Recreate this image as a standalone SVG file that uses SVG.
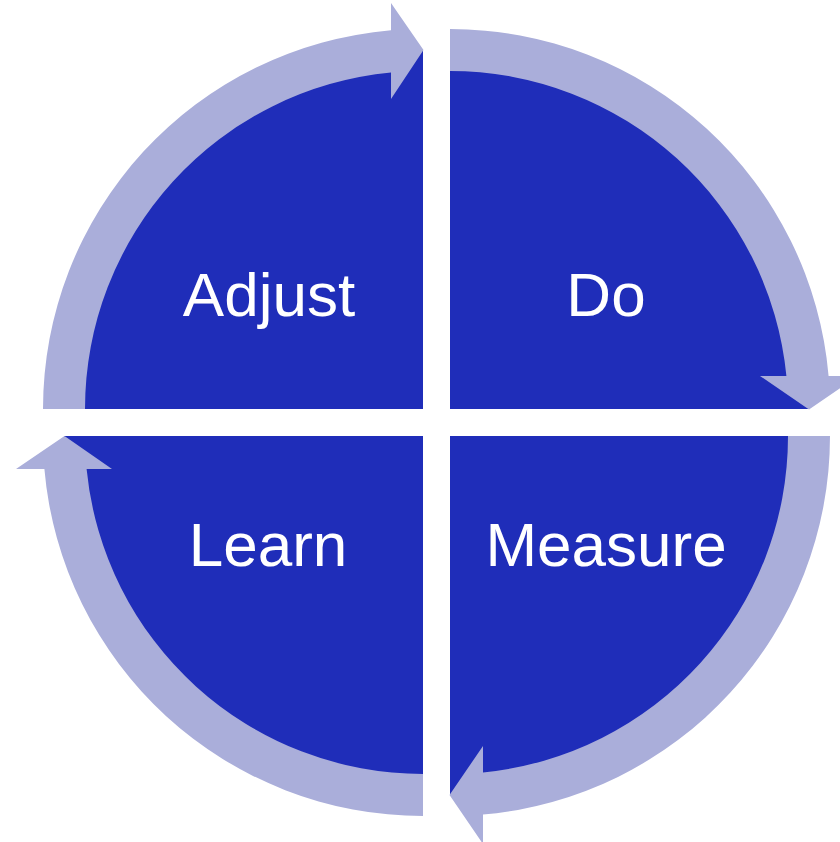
<svg xmlns="http://www.w3.org/2000/svg" width="840" height="842" viewBox="0 0 840 842">
<style>
.sector{fill:#1F2DB9;}
.ring{fill:#AAAEDA;}
.label{fill:#FFFFFF;font-family:"Liberation Sans",Arial,sans-serif;font-size:62px;text-anchor:middle;}
</style>
<rect width="840" height="842" fill="#FFFFFF"/>
<g id="adjust">
<path class="sector" d="M423,409 L64,409 A359,359 0 0 1 423,50 Z"/>
<text class="label" x="269" y="316">Adjust</text>
</g>
<g id="do">
<path class="sector" d="M450,409 L450,50 A359,359 0 0 1 809,409 Z"/>
<text class="label" x="606" y="316">Do</text>
</g>
<g id="measure">
<path class="sector" d="M450,436 L809,436 A359,359 0 0 1 450,795 Z"/>
<text class="label" x="606" y="566">Measure</text>
</g>
<g id="learn">
<path class="sector" d="M423,436 L423,795 A359,359 0 0 1 64,436 Z"/>
<text class="label" x="268" y="566">Learn</text>
</g>
<g id="connectors">
<path class="ring" d="M43,409 A380,380 0 0 1 391,30.35 L391,3 L423.5,50 L391,99 L391,72.5 A338,338 0 0 0 85,409 Z"/>
<path class="ring" d="M450,29 A380,380 0 0 1 828.6,376 L858,376 L809,409.5 L760,376 L786.4,376 A338,338 0 0 0 450,71 Z"/>
<path class="ring" d="M830,436 A380,380 0 0 1 483,814.6 L483,844 L449.5,795 L483,746 L483,772.4 A338,338 0 0 0 788,436 Z"/>
<path class="ring" d="M423,816 A380,380 0 0 1 44.4,469 L16,469 L64.5,436 L112,469 L86.6,469 A338,338 0 0 0 423,774 Z"/>
</g>
</svg>
